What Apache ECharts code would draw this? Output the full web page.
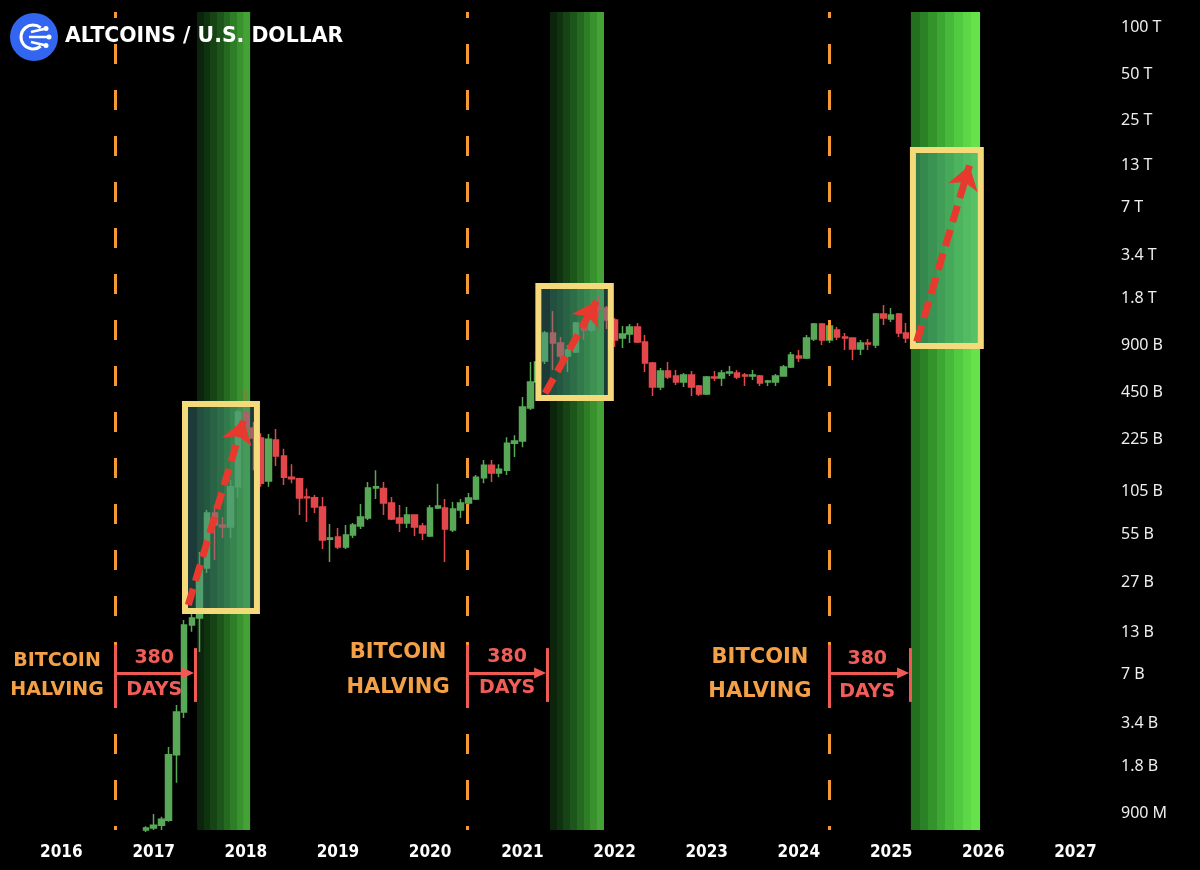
<!DOCTYPE html>
<html>
<head>
<meta charset="utf-8">
<script src="https://cdn.jsdelivr.net/npm/echarts@6/dist/echarts.min.js"></script>
<style>
html,body{margin:0;padding:0;background:#000;}
#chart{width:1200px;height:870px;}
</style>
</head>
<body>
<div id="chart"></div>
<script>
// ---------- DATA (values in billions of USD, monthly candles from Dec 2016) ----------
const firstMonth = [2016, 12];
const opens = [0.70,
  0.72,0.75,0.81,2.13,4.01,14.5,16.1,33.7,75.9,63.6,61.7,112,
  338,267,230,122,223,176,129,126,96.1,95.0,82.9,51.5,
  53.2,45.9,54.8,62.7,70.6,110,109,88.0,70.6,65.5,73.7,62.7,
  54.0,81.7,81.7,59.0,79.3,88.0,93.4,128,154,137,143,213,
  220,358,526,718,1087,937,774,820,1260,1136,1595,1572,
  1317,1010,1071,1187,951,697,489,620,575,526,584,496,
  441,566,558,602,602,584,575,575,526,526,575,658,
  774,751,995,1241,980,1136,1024,1010,858,937,910,1438,
  1337,1438,1087];
const closes = [0.72,
  0.75,0.82,2.13,4.01,14.5,16.1,32.7,75.9,63.6,61.7,112,338,
  267,230,118,226,176,129,126,94.8,95.0,82.9,50.9,52.4,
  45.9,54.8,63.6,71.6,110,112,88.0,69.5,65.5,73.7,61.7,56.4,
  81.7,84.1,59.9,80.5,88.0,94.8,129,154,137,145,213,220,
  364,526,708,1087,937,774,845,1260,1136,1595,1572,1317,
  980,1071,1187,951,697,489,620,566,526,584,489,441,
  566,558,602,610,566,575,584,519,534,575,658,785,
  751,1010,1241,980,1205,1024,1010,858,937,923,1438,1357,
  1417,1087,1010];
const lows = [0.68,
  0.70,0.70,0.79,1.41,3.67,13.1,9.71,31.3,37.9,52.4,52.4,94.8,
  213,143,112,112,152,115,118,73.7,66.5,75.9,44.6,36.8,
  44.6,44.6,52.4,59.9,68.5,93.4,73.7,68.5,57.3,60.8,54.0,50.9,
  53.2,80.5,36.8,57.3,70.6,84.1,92,118,120,129,133,174,
  201,348,468,687,629,610,610,808,980,1103,1357,1153,
  883,870,937,937,610,428,468,550,504,489,428,428,
  435,534,496,575,550,496,542,496,496,496,575,648,
  708,740,966,910,937,980,845,729,785,845,870,1223,
  1278,1024,937];
const highs = [0.74,
  0.886,0.85,2.39,4.45,15.6,17.6,42.6,79.3,85.4,71.6,124,348,
  468,291,247,244,263,196,156,128,109,99,96.1,64.6,
  60.8,63.6,65.5,86.7,120,143,120,96.1,85.4,82.9,74.5,65.5,
  85.4,117,93.4,89.3,93.4,102,133,166,166,156,233,240,
  422,708,785,1119,1503,1024,910,1278,1357,1691,1905,1619,
  1357,1205,1241,1260,1055,708,648,708,629,602,620,504,
  575,620,629,667,629,602,629,584,542,593,677,820,
  845,1055,1260,1260,1260,1187,1087,1010,980,995,1460,1643,
  1572,1460,1260];

// axis ticks
const yTickValues = [100000,50000,25000,13000,7000,3400,1800,900,450,225,105,55,27,13,7,3.4,1.8,0.9];
const yTickLabels = ['100 T','50 T','25 T','13 T','7 T','3.4 T','1.8 T','900 B','450 B','225 B','105 B','55 B','27 B','13 B','7 B','3.4 B','1.8 B','900 M'];
const xTickYears = ['2016','2017','2018','2019','2020','2021','2022','2023','2024','2025','2026','2027'];
const xRange = ['2015-05-03','2027-04-28'];
const yRange = [0.70, 125000];

// annotations (dates / values in data units)
const halvingDates = ['2016-08-01','2020-05-27','2024-04-29'];
const bandStarts = ['2017-06-22','2021-04-20','2025-03-20'];
const bandEnds   = ['2018-01-18','2021-11-20','2025-12-19'];
const boxes = [ // [startDate, endDate, topValue, bottomValue]
  ['2017-05-05','2018-02-14',380,17.85],
  ['2021-03-05','2021-12-17',2176,415.7],
  ['2025-03-28','2025-12-22',16230,896.6]
];
const growthArrows = [ // [startDate, startValue, endDate, endValue]
  ['2017-05-18',19.5,'2017-12-23',301],
  ['2021-04-01',445.6,'2021-10-21',1736],
  ['2025-04-12',955,'2025-11-07',12912]
];
const daysBarDates = ['2017-06-14','2021-04-08','2025-03-16'];
const daysArrowEnds = ['2017-05-17','2021-03-12','2025-02-17'];
const halvingBarRange = [10.8, 4.26];
const daysBarRange = [10.3, 4.65];
const daysArrowValue = 7.14;
const halvingTextPos = [ // [date, topRowValue, bottomRowValue, fontSize]
  ['2015-12-15',8.52,5.55,19],
  ['2019-08-27',9.59,5.72,21],
  ['2023-07-31',8.91,5.39,21]
];
const daysTextPos = [
  ['2017-01-03',8.91,5.55],
  ['2020-11-01',9.05,5.72],
  ['2024-09-28',8.77,5.39]
];

// ---------- BUILD ----------
const T = s => { const p = s.split('-').map(Number); return new Date(p[0], p[1]-1, p[2] || 1).getTime(); };
const months = opens.map((_, i) => {
  const m = firstMonth[1] - 1 + i;
  return (firstMonth[0] + Math.floor(m / 12)) + '-' + String(m % 12 + 1).padStart(2, '0') + '-01';
});
const candleData = months.map((m, i) => [T(m), opens[i], closes[i], lows[i], highs[i]]);

function stepGrad(cols) {
  const n = cols.length, stops = [];
  cols.forEach((c, i) => {
    stops.push({offset: i / n, color: c});
    stops.push({offset: Math.min(1, (i + 1) / n - 0.0001), color: c});
  });
  return {type: 'linear', x: 0, y: 0, x2: 1, y2: 0, colorStops: stops};
}
const darkBand = ['#0b240b','#10330f','#164414','#1d561a','#256a20','#2e7e27','#39922e','#44a236'];
const brightBand = ['#23701f','#2b8226','#33942c','#3ca733','#46b93a','#51ca41','#5cd846','#66e24b'];
const bandColors = [darkBand, darkBand, brightBand];

const ORANGE = '#f4a047', RED_TXT = '#f25d58', RED_LINE = '#f05a55', ARROW_RED = '#e8392f';
const FONT = '"DejaVu Sans", "Noto Sans", sans-serif';

const annoLines = [];
growthArrows.forEach(a => {
  annoLines.push([
    {coord: [T(a[0]), a[1]], symbol: 'none',
     lineStyle: {color: ARROW_RED, width: 7, type: [17, 8], cap: 'butt'}},
    {coord: [T(a[2]), a[3]], symbol: 'arrow', symbolSize: [23, 23]}
  ]);
});
halvingDates.forEach((d, i) => {
  annoLines.push([
    {coord: [T(d), halvingBarRange[0]], symbol: 'none', lineStyle: {color: RED_LINE, width: 3, type: 'solid'}},
    {coord: [T(d), halvingBarRange[1]], symbol: 'none'}
  ]);
  annoLines.push([
    {coord: [T(daysBarDates[i]), daysBarRange[0]], symbol: 'none', lineStyle: {color: RED_LINE, width: 3, type: 'solid'}},
    {coord: [T(daysBarDates[i]), daysBarRange[1]], symbol: 'none'}
  ]);
  annoLines.push([
    {coord: [T(d), daysArrowValue], symbol: 'none', lineStyle: {color: RED_LINE, width: 3, type: 'solid'}},
    {coord: [T(daysArrowEnds[i]), daysArrowValue], symbol: 'triangle', symbolSize: [11, 12]}
  ]);
});

const annoTexts = [];
halvingTextPos.forEach(p => {
  const lab = {show: true, position: 'inside', color: ORANGE, fontFamily: FONT, fontWeight: 'bold', fontSize: p[3], formatter: '{b}'};
  annoTexts.push({name: 'BITCOIN', coord: [T(p[0]), p[1]], label: lab});
  annoTexts.push({name: 'HALVING', coord: [T(p[0]), p[2]], label: lab});
});
daysTextPos.forEach(p => {
  const lab = {show: true, position: 'inside', color: RED_TXT, fontFamily: FONT, fontWeight: 'bold', fontSize: 19, formatter: '{b}'};
  annoTexts.push({name: '380', coord: [T(p[0]), p[1]], label: lab});
  annoTexts.push({name: 'DAYS', coord: [T(p[0]), p[2]], label: lab});
});

const chart = echarts.init(document.getElementById('chart'), null, {renderer: 'canvas'});
chart.setOption({
  backgroundColor: '#000',
  animation: false,
  grid: {left: 0, right: 95, top: 12, bottom: 40, containLabel: false, outerBoundsMode: 'none'},
  xAxis: {
    type: 'value',
    min: T(xRange[0]), max: T(xRange[1]),
    axisLine: {show: false}, axisTick: {show: false}, splitLine: {show: false},
    axisLabel: {
      customValues: xTickYears.map(y => T(y + '-01-01')),
      formatter: v => String(new Date(v).getFullYear()),
      color: '#ffffff', fontFamily: '"DejaVu Sans Condensed", "Liberation Sans Narrow", "DejaVu Sans", sans-serif',
      fontWeight: 'bold', fontSize: 17, margin: 14, hideOverlap: false
    }
  },
  yAxis: {
    type: 'log', logBase: 10, position: 'right',
    min: yRange[0], max: yRange[1],
    axisLine: {show: false}, axisTick: {show: false}, splitLine: {show: false}, minorSplitLine: {show: false},
    axisLabel: {
      customValues: yTickValues,
      formatter: v => {
        let best = 0, bd = Infinity;
        yTickValues.forEach((t, i) => { const d = Math.abs(Math.log(v / t)); if (d < bd) { bd = d; best = i; } });
        return yTickLabels[best];
      },
      color: '#eeeeee', fontFamily: '"Noto Sans", "DejaVu Sans", sans-serif', fontSize: 16, margin: 16
    }
  },
  graphic: [
    {type: 'circle', shape: {cx: 34, cy: 37, r: 24}, style: {fill: '#3366f0'}, z: 100},
    {type: 'arc', shape: {cx: 33, cy: 37, r: 12, startAngle: Math.PI * 0.28, endAngle: Math.PI * 1.72, clockwise: true},
     style: {stroke: '#fff', lineWidth: 3, fill: null}, z: 101},
    {type: 'polyline', shape: {points: [[31, 32], [44, 29]]}, style: {stroke: '#fff', lineWidth: 2.5}, z: 101},
    {type: 'polyline', shape: {points: [[29, 37], [47, 37]]}, style: {stroke: '#fff', lineWidth: 2.5}, z: 101},
    {type: 'polyline', shape: {points: [[31, 42], [44, 45]]}, style: {stroke: '#fff', lineWidth: 2.5}, z: 101},
    {type: 'circle', shape: {cx: 46, cy: 28.5, r: 2.5}, style: {fill: '#fff'}, z: 101},
    {type: 'circle', shape: {cx: 49, cy: 37, r: 2.5}, style: {fill: '#fff'}, z: 101},
    {type: 'circle', shape: {cx: 46, cy: 45.5, r: 2.5}, style: {fill: '#fff'}, z: 101},
    {type: 'text', x: 65, y: 37, z: 101,
     style: {text: 'ALTCOINS / U.S. DOLLAR', fill: '#ffffff', font: 'bold 20.4px "DejaVu Sans", sans-serif', verticalAlign: 'middle'}}
  ],
  series: [
    {
      name: 'ALTCOINS / U.S. DOLLAR',
      type: 'candlestick',
      data: candleData,
      encode: {x: 0, y: [1, 2, 3, 4]},
      barWidth: 6,
      z: 2,
      itemStyle: {color: '#58a957', color0: '#e2484b', borderColor: '#58a957', borderColor0: '#e2484b', borderWidth: 1.5},
      markArea: {
        silent: true, z: 1,
        label: {show: false},
        data: bandStarts.map((s, i) => [
          {xAxis: T(s), itemStyle: {color: stepGrad(bandColors[i])}},
          {xAxis: T(bandEnds[i])}
        ])
      },
      markLine: {
        silent: true, z: 5,
        symbol: ['none', 'none'],
        label: {show: false},
        lineStyle: {color: '#f59a33', width: 3, type: [20, 26], dashOffset: 16, opacity: 1},
        data: halvingDates.map(d => ({xAxis: T(d)}))
      }
    },
    {
      name: 'annotations',
      type: 'line',
      data: [],
      markArea: {
        silent: true, z: 3,
        label: {show: false},
        itemStyle: {color: 'rgba(70,145,140,0.40)', borderColor: '#f5da7c', borderWidth: 6},
        data: boxes.map(b => [{xAxis: T(b[0]), yAxis: b[2]}, {xAxis: T(b[1]), yAxis: b[3]}])
      },
      markLine: {
        silent: true, z: 6,
        label: {show: false},
        symbol: ['none', 'none'],
        data: annoLines
      },
      markPoint: {
        silent: true, z: 7,
        symbol: 'circle', symbolSize: 1,
        itemStyle: {color: 'rgba(0,0,0,0)'},
        data: annoTexts
      }
    }
  ]
});
</script>
</body>
</html>
